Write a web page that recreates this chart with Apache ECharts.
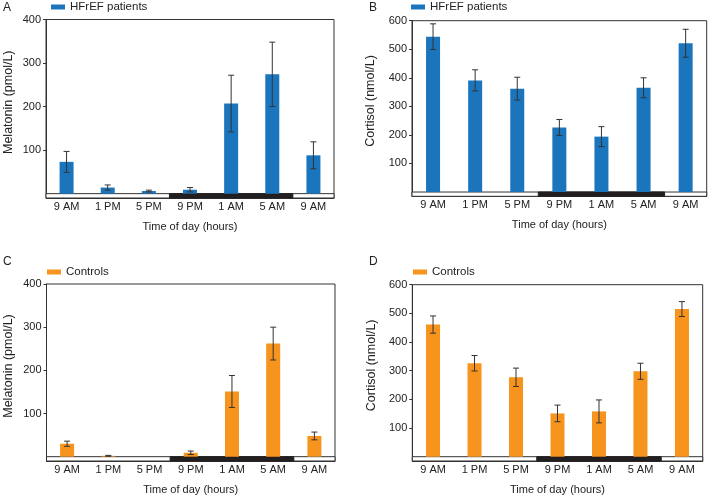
<!DOCTYPE html>
<html>
<head>
<meta charset="utf-8">
<script src="https://cdn.jsdelivr.net/npm/echarts@6/dist/echarts.min.js"></script>
<style>
html,body{margin:0;padding:0;background:#fff;}
#chart{width:709px;height:496px;}
</style>
</head>
<body>
<div id="chart"></div>
<script>
// ---- data ----
const categories = ['9 AM', '1 PM', '5 PM', '9 PM', '1 AM', '5 AM', '9 AM'];
const nightBands = [3, 5]; // first and last category index of the dark (night) period

const melatoninHF = [73, 14, 6, 9, 207, 274, 88];
const melatoninHFErr = [24, 6, 2, 5, 65, 74, 31];
const cortisolHF = [544, 391, 362, 226, 194, 365, 521];
const cortisolHFErr = [45, 37, 40, 28, 35, 35, 49];
const melatoninCtrl = [30, 2, 0, 9, 151, 262, 48];
const melatoninCtrlErr = [6, 1, 0, 4, 37, 38, 9];
const cortisolCtrl = [461, 326, 277, 151, 158, 298, 515];
const cortisolCtrlErr = [30, 27, 32, 29, 40, 28, 26];

const melatoninTicks = [100, 200, 300, 400];
const cortisolTicks = [100, 200, 300, 400, 500, 600];

const panelLetters = ['A', 'B', 'C', 'D'];
const hfName = 'HFrEF patients';
const ctrlName = 'Controls';

// ---- style ----
const FONT = "'Liberation Sans', Arial, Helvetica, sans-serif";
const TXT = '#222';
const BLUE = '#1b75bc';
const ORANGE = '#f7941d';

const panels = [
  {grid: {left: 46, top: 19.5, width: 288, height: 178.5}, min: -10, max: 400, ticks: melatoninTicks,
   yName: 'Melatonin (pmol/L)', nameGap: 31, shift: 13, vals: melatoninHF, err: melatoninHFErr, color: BLUE, name: hfName,
   letter: {left: 3, top: 2}, legend: {left: 51, top: 1}},
  {grid: {left: 412, top: 20.7, width: 294.7, height: 175.6}, min: -15, max: 600, ticks: cortisolTicks,
   yName: 'Cortisol (nmol/L)', nameGap: 34.5, shift: 15, vals: cortisolHF, err: cortisolHFErr, color: BLUE, name: hfName,
   letter: {left: 369, top: 2}, legend: {left: 411, top: 1}},
  {grid: {left: 46.5, top: 284, width: 288.5, height: 177}, min: -10, max: 400, ticks: melatoninTicks,
   yName: 'Melatonin (pmol/L)', nameGap: 31, shift: 13, vals: melatoninCtrl, err: melatoninCtrlErr, color: ORANGE, name: ctrlName,
   letter: {left: 3, top: 256}, legend: {left: 47, top: 266}},
  {grid: {left: 412.3, top: 284.7, width: 290.4, height: 177.6}, min: -15, max: 600, ticks: cortisolTicks,
   yName: 'Cortisol (nmol/L)', nameGap: 34.5, shift: 15, vals: cortisolCtrl, err: cortisolCtrlErr, color: ORANGE, name: ctrlName,
   letter: {left: 369, top: 256}, legend: {left: 413, top: 266}}
];

const option = {
  animation: false,
  backgroundColor: '#fff',
  textStyle: {fontFamily: FONT, color: TXT},
  title: panels.map((p, i) => ({
    text: panelLetters[i], left: p.letter.left, top: p.letter.top, padding: 0,
    textStyle: {fontFamily: FONT, fontSize: 12, fontWeight: 'normal', color: TXT}
  })),
  legend: panels.map((p) => ({
    data: [p.name], left: p.legend.left, top: p.legend.top, padding: 0,
    icon: 'rect', itemWidth: 14, itemHeight: 5, selectedMode: false,
    textStyle: {fontFamily: FONT, fontSize: 11.5, color: TXT}
  })),
  grid: panels.map((p) => Object.assign({show: true, borderColor: '#333', borderWidth: 1, backgroundColor: 'transparent'}, p.grid)),
  xAxis: panels.map((p, i) => ({
    type: 'category', gridIndex: i, data: categories, boundaryGap: true,
    name: 'Time of day (hours)', nameLocation: 'middle', nameGap: 23,
    nameTextStyle: {fontFamily: FONT, fontSize: 11, color: TXT},
    axisLine: {show: true, onZero: false, lineStyle: {color: '#333', width: 1}},
    axisTick: {show: false},
    axisLabel: {fontFamily: FONT, fontSize: 11, color: TXT, margin: 3, interval: 0},
    splitLine: {show: false}
  })),
  yAxis: panels.map((p, i) => ({
    type: 'value', gridIndex: i, min: p.min, max: p.max,
    name: p.yName, nameLocation: 'middle', nameGap: p.nameGap,
    nameTextStyle: {fontFamily: FONT, fontSize: 12.5, color: TXT, padding: [0, 0, 0, p.shift]},
    axisLine: {show: true, lineStyle: {color: '#333', width: 1}},
    axisTick: {show: true, length: 3, lineStyle: {color: '#333'}, customValues: p.ticks},
    axisLabel: {fontFamily: FONT, fontSize: 11, color: TXT, margin: 5, customValues: p.ticks},
    splitLine: {show: false}
  })),
  series: []
};

panels.forEach((p, i) => {
  // day/night strip below zero line
  option.series.push({
    type: 'custom', xAxisIndex: i, yAxisIndex: i, silent: true, z: 1,
    data: [[nightBands[0], nightBands[1], p.min]],
    renderItem: function (params, api) {
      const bw = api.size([1, 0])[0];
      const y0 = api.coord([0, 0])[1];
      const y1 = api.coord([0, api.value(2)])[1];
      const xa = api.coord([0, 0])[0] - bw / 2;
      const xb = api.coord([categories.length - 1, 0])[0] + bw / 2;
      const na = api.coord([api.value(0), 0])[0] - bw / 2;
      const nb = api.coord([api.value(1), 0])[0] + bw / 2;
      return {
        type: 'group',
        children: [
          {type: 'rect', shape: {x: xa, y: y0, width: xb - xa, height: y1 - y0},
           style: {fill: '#fff', stroke: '#333', lineWidth: 1}},
          {type: 'rect', shape: {x: na, y: y0, width: nb - na, height: y1 - y0},
           style: {fill: '#231f20', stroke: '#231f20', lineWidth: 1}}
        ]
      };
    }
  });
  option.series.push({
    type: 'bar', name: p.name, xAxisIndex: i, yAxisIndex: i, data: p.vals,
    barWidth: 14, z: 2, itemStyle: {color: p.color}
  });
  option.series.push({
    type: 'custom', xAxisIndex: i, yAxisIndex: i, silent: true, z: 3,
    data: p.vals.map((v, k) => [k, v - p.err[k], v + p.err[k]]),
    renderItem: function (params, api) {
      const lo = api.coord([api.value(0), api.value(1)]);
      const hi = api.coord([api.value(0), api.value(2)]);
      if (api.value(2) - api.value(1) <= 0) return null;
      const cap = 3;
      const st = {stroke: '#333', lineWidth: 1};
      return {
        type: 'group',
        children: [
          {type: 'line', shape: {x1: lo[0], y1: lo[1], x2: hi[0], y2: hi[1]}, style: st},
          {type: 'line', shape: {x1: lo[0] - cap, y1: lo[1], x2: lo[0] + cap, y2: lo[1]}, style: st},
          {type: 'line', shape: {x1: hi[0] - cap, y1: hi[1], x2: hi[0] + cap, y2: hi[1]}, style: st}
        ]
      };
    }
  });
});

const chart = echarts.init(document.getElementById('chart'), null, {renderer: 'canvas'});
chart.setOption(option);
</script>
</body>
</html>
